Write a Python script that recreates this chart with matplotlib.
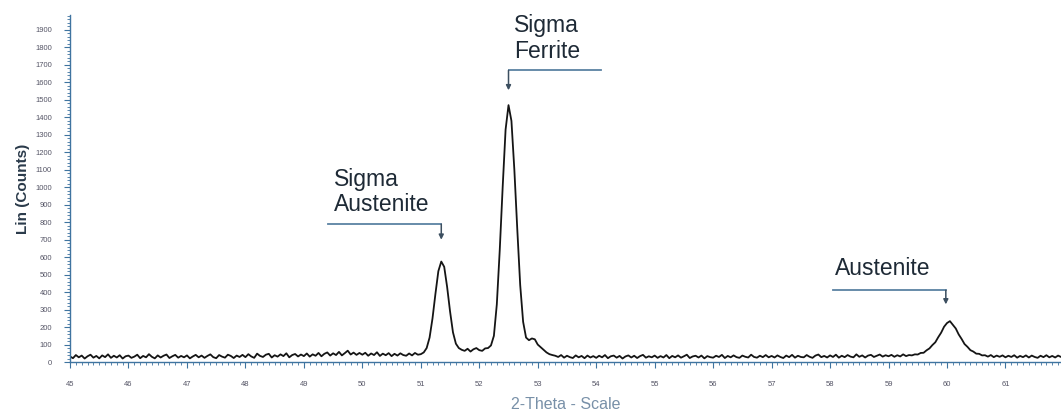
import numpy as np
import matplotlib
matplotlib.use("Agg")
import matplotlib.pyplot as plt
from matplotlib.ticker import MultipleLocator

plt.rcParams['font.family'] = ['Liberation Sans', 'DejaVu Sans']

# scan: 2-theta from 45 to 62 deg, step 0.05 deg
theta_start, theta_step = 45.0, 0.05
counts = [
    # 45.00 - 45.95
    32, 22, 40, 27, 37, 20, 33, 42, 25, 35, 21, 38, 28, 44, 24, 36, 26, 39, 20, 33,
    # 46.00 - 46.95
    37, 24, 31, 42, 22, 35, 27, 45, 30, 21, 38, 26, 36, 43, 23, 33, 41, 25, 35, 27,
    # 47.00 - 47.95
    38, 21, 32, 41, 27, 37, 24, 35, 44, 28, 22, 40, 31, 25, 42, 35, 23, 37, 29, 41,
    # 48.00 - 48.95
    28, 45, 32, 24, 48, 35, 29, 42, 47, 26, 39, 31, 44, 34, 50, 27, 40, 46, 32, 43,
    # 49.00 - 49.95
    34, 49, 31, 44, 36, 52, 33, 47, 55, 37, 50, 40, 58, 38, 51, 65, 43, 54, 41, 52,
    # 50.00 - 50.95
    42, 53, 36, 49, 40, 56, 35, 48, 39, 51, 34, 47, 37, 50, 40, 36, 49, 38, 52, 42,
    # 51.00 - 51.95  (sigma / austenite)
    45, 55, 80, 140, 250, 390, 520, 575, 545, 430, 290, 170, 105, 80, 70, 64, 76, 60, 73, 80,
    # 52.00 - 52.95  (sigma / ferrite)
    68, 64, 78, 80, 95, 150, 330, 640, 1000, 1330, 1470, 1380, 1100, 760, 440, 230, 140, 125, 135, 130,
    # 53.00 - 53.95
    100, 85, 70, 55, 45, 40, 36, 29, 40, 25, 36, 28, 23, 38, 27, 35, 22, 37, 26, 34,
    # 54.00 - 54.95
    24, 36, 27, 40, 22, 33, 37, 25, 35, 20, 32, 38, 26, 36, 23, 34, 41, 25, 33, 27,
    # 55.00 - 55.95
    37, 24, 34, 26, 40, 22, 35, 27, 38, 25, 33, 42, 23, 32, 36, 26, 37, 21, 34, 28,
    # 56.00 - 56.95
    25, 36, 29, 41, 23, 35, 27, 38, 28, 24, 37, 30, 26, 42, 29, 25, 36, 28, 40, 27,
    # 57.00 - 57.95
    35, 26, 38, 29, 23, 37, 28, 41, 25, 36, 29, 27, 40, 30, 24, 37, 43, 28, 35, 26,
    # 58.00 - 58.95
    38, 29, 42, 25, 36, 28, 40, 31, 27, 44, 30, 38, 26, 37, 41, 29, 36, 43, 31, 39,
    # 59.00 - 59.95  (austenite)
    33, 41, 30, 39, 32, 44, 34, 40, 38, 44, 43, 52, 53, 67, 78, 97, 113, 142, 168, 202,
    # 60.00 - 60.95
    223, 234, 213, 192, 158, 132, 103, 87, 68, 60, 48, 47, 38, 39, 31, 40, 28, 37, 30, 38,
    # 61.00 - 62.00
    27, 36, 29, 39, 25, 35, 28, 38, 26, 37, 29, 24, 36, 28, 39, 27, 35, 26, 37, 29, 32,
]
theta = theta_start + theta_step * np.arange(len(counts))

# peak labels: text, text anchor, leader line level, arrow tip
labels = ["Sigma\nAustenite", "Sigma\nFerrite", "Austenite"]
label_xy = [(49.52, 833), (52.59, 1712), (58.09, 468)]
line_y = [789, 1669, 411]
line_x0 = [49.42, 54.08, 58.05]
peak_x = [51.35, 52.50, 59.98]
tip_y = [700, 1555, 330]

axis_col = '#3f74a0'

fig = plt.figure(figsize=(10.61, 4.2), dpi=100)
ax = fig.add_axes([0.066, 0.138, 0.934, 0.826])

ax.plot(theta, counts, color='#151515', lw=1.3)

ax.set_xlim(45, 61.95)
ax.set_ylim(0, 1985)

ax.xaxis.set_major_locator(MultipleLocator(1))
ax.xaxis.set_minor_locator(MultipleLocator(0.1))
ax.yaxis.set_major_locator(MultipleLocator(100))
ax.yaxis.set_minor_locator(MultipleLocator(20))

for s in ['top', 'right']:
    ax.spines[s].set_visible(False)
for s in ['left', 'bottom']:
    ax.spines[s].set_color(axis_col)
    ax.spines[s].set_linewidth(1.0)

ax.tick_params(axis='both', which='major', length=4, width=0.8, color=axis_col,
               labelsize=5.5, labelcolor='#555566')
ax.tick_params(axis='both', which='minor', length=2.5, width=0.6, color=axis_col)
ax.tick_params(axis='x', which='major', pad=10)
ax.tick_params(axis='y', which='major', pad=9)

ax.set_ylabel('Lin (Counts)', fontsize=11, fontweight='bold', color='#2a3a4a', labelpad=4)
ax.set_xlabel('2-Theta - Scale', fontsize=11.5, color='#7890a8', labelpad=6)

for txt, (tx, ty), ly, lx0, px, py in zip(labels, label_xy, line_y, line_x0, peak_x, tip_y):
    ax.text(tx, ty, txt, fontsize=16.5, color='#1e2a36', ha='left', va='bottom',
            linespacing=1.15)
    ax.plot([lx0, px], [ly, ly], color='#5b82a3', lw=1.3)
    ax.annotate('', xy=(px, py), xytext=(px, ly),
                arrowprops=dict(arrowstyle='-|>', color='#3c4f60', lw=1.1,
                                mutation_scale=7, shrinkA=0, shrinkB=0))

fig.savefig('out.png', dpi=100)
